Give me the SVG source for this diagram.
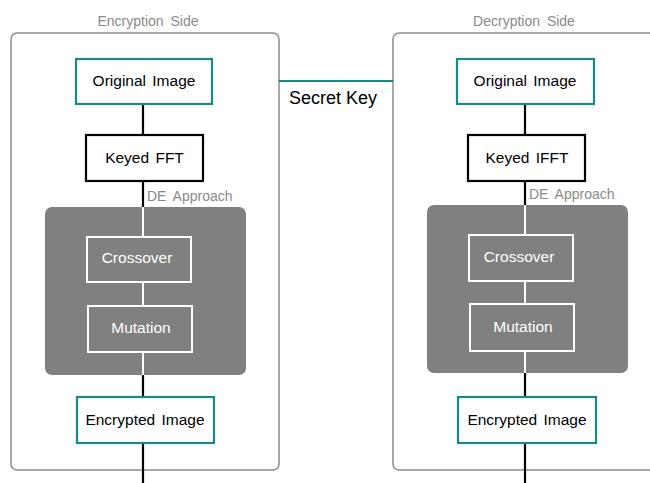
<svg xmlns="http://www.w3.org/2000/svg" width="650" height="483" viewBox="0 0 650 483">
  <style>
    .side { fill: #ffffff; stroke: #8c8c8c; stroke-width: 1.5; }
    .caption { font-family: "Liberation Sans", Arial, sans-serif; font-size: 14px; fill: #8a8a8a; word-spacing: 3px; }
    .teal { fill: #ffffff; stroke: #1a8a84; stroke-width: 2.2; }
    .plain { fill: #ffffff; stroke: #000000; stroke-width: 2.2; }
    .de { fill: #808080; stroke: none; }
    .op { fill: none; stroke: #ffffff; stroke-width: 2; }
    .label { font-family: "Liberation Sans", Arial, sans-serif; font-size: 15.5px; fill: #000000; text-anchor: middle; word-spacing: 2px; }
    .label-w { font-family: "Liberation Sans", Arial, sans-serif; font-size: 15.5px; fill: #ffffff; text-anchor: middle; }
    .link { stroke: #000000; stroke-width: 2.2; fill: none; }
    .link-w { stroke: #ffffff; stroke-width: 2; fill: none; }
    .key { stroke: #1a8a84; stroke-width: 2.2; fill: none; }
  </style>

  <!-- side containers -->
  <g id="encryption-side">
    <rect class="side" x="11" y="33" width="268" height="437" rx="6"/>
    <text class="caption" x="148" y="26" text-anchor="middle">Encryption Side</text>
  </g>
  <g id="decryption-side">
    <rect class="side" x="393" y="33" width="280" height="437" rx="6"/>
    <text class="caption" x="524" y="26" text-anchor="middle">Decryption Side</text>
  </g>

  <!-- DE blocks -->
  <g id="de-enc">
    <rect class="de" x="45" y="207" width="201" height="168" rx="7"/>
    <text class="caption" x="147" y="201">DE Approach</text>
  </g>
  <g id="de-dec">
    <rect class="de" x="427" y="205" width="201" height="168" rx="7"/>
    <text class="caption" x="529" y="199">DE Approach</text>
  </g>

  <!-- connectors -->
  <g id="connectors">
    <line class="key" x1="279" y1="81" x2="393" y2="81"/>
    <line class="link" x1="143" y1="104" x2="143" y2="135"/>
    <line class="link" x1="143" y1="181" x2="143" y2="207"/>
    <line class="link-w" x1="143" y1="207" x2="143" y2="237"/>
    <line class="link-w" x1="143" y1="282" x2="143" y2="306"/>
    <line class="link-w" x1="143" y1="352" x2="143" y2="375"/>
    <line class="link" x1="143" y1="375" x2="143" y2="397"/>
    <line class="link" x1="143" y1="443" x2="143" y2="483"/>

    <line class="link" x1="525" y1="104" x2="525" y2="135"/>
    <line class="link" x1="525" y1="181" x2="525" y2="205"/>
    <line class="link-w" x1="525" y1="205" x2="525" y2="235"/>
    <line class="link-w" x1="525" y1="281" x2="525" y2="304"/>
    <line class="link-w" x1="525" y1="351" x2="525" y2="373"/>
    <line class="link" x1="525" y1="373" x2="525" y2="397"/>
    <line class="link" x1="525" y1="443" x2="525" y2="483"/>
  </g>
  <text id="secret-key" x="289" y="104" font-family="Liberation Sans, Arial, sans-serif" font-size="18" fill="#000000">Secret Key</text>

  <!-- encryption nodes -->
  <g id="enc-original">
    <rect class="teal" x="76" y="59" width="136" height="45"/>
    <text class="label" x="144" y="86">Original Image</text>
  </g>
  <g id="enc-fft">
    <rect class="plain" x="86" y="135" width="117" height="46"/>
    <text class="label" x="144.5" y="163">Keyed FFT</text>
  </g>
  <g id="enc-crossover">
    <rect class="op" x="87" y="237" width="104" height="45"/>
    <text class="label-w" x="137" y="263">Crossover</text>
  </g>
  <g id="enc-mutation">
    <rect class="op" x="88" y="306" width="104" height="46"/>
    <text class="label-w" x="141" y="333">Mutation</text>
  </g>
  <g id="enc-encrypted">
    <rect class="teal" x="77" y="397" width="137" height="46"/>
    <text class="label" x="145" y="425">Encrypted Image</text>
  </g>

  <!-- decryption nodes -->
  <g id="dec-original">
    <rect class="teal" x="457" y="59" width="137" height="45"/>
    <text class="label" x="525" y="86">Original Image</text>
  </g>
  <g id="dec-ifft">
    <rect class="plain" x="468" y="135" width="117" height="46"/>
    <text class="label" x="527" y="163">Keyed IFFT</text>
  </g>
  <g id="dec-crossover">
    <rect class="op" x="469" y="235" width="104" height="46"/>
    <text class="label-w" x="519" y="262">Crossover</text>
  </g>
  <g id="dec-mutation">
    <rect class="op" x="470" y="304" width="104" height="47"/>
    <text class="label-w" x="523" y="332">Mutation</text>
  </g>
  <g id="dec-encrypted">
    <rect class="teal" x="458" y="397" width="138" height="46"/>
    <text class="label" x="527" y="425">Encrypted Image</text>
  </g>
</svg>
